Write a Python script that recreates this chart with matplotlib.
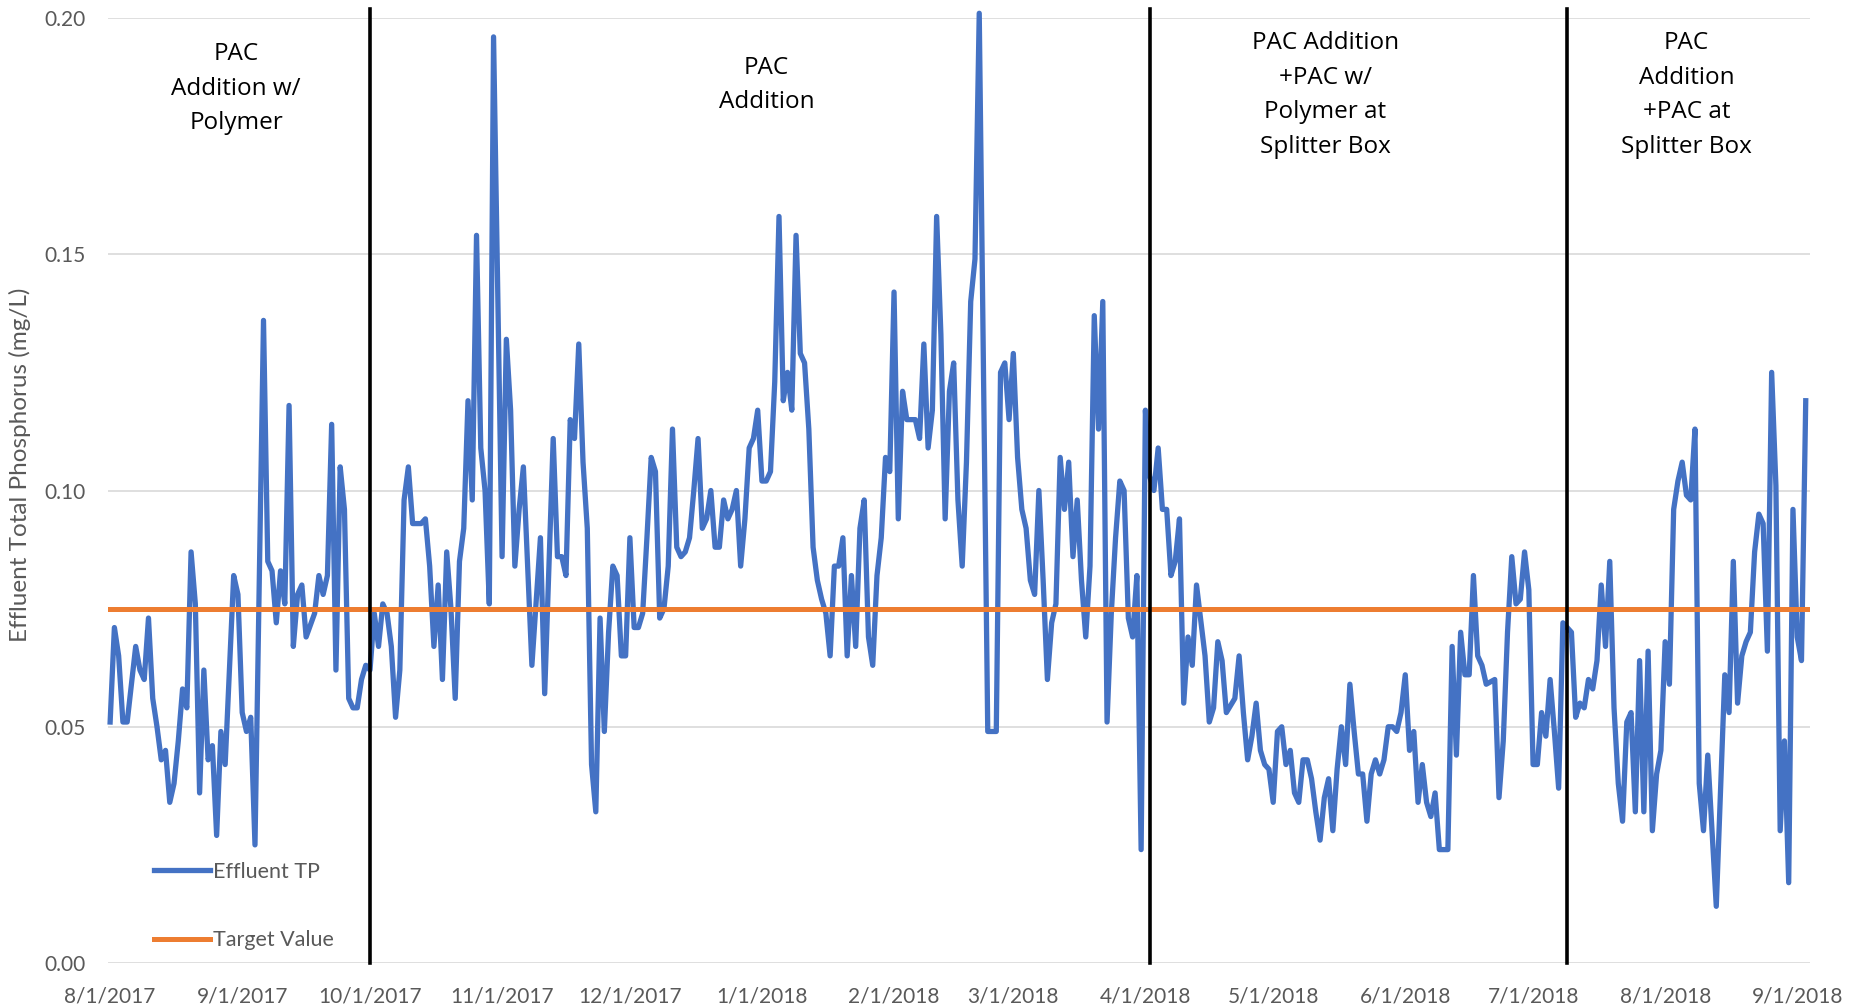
import numpy as np
import pandas as pd
import matplotlib
matplotlib.use('Agg')
import matplotlib.pyplot as plt
import matplotlib.dates as mdates
from matplotlib.ticker import FuncFormatter

plt.rcParams['font.family'] = ['Lato', 'DejaVu Sans']

# Data: day offsets from 8/1/2017 and effluent TP (mg/L)
start = pd.Timestamp('2017-08-01')

# PAC Addition w/ Polymer
p1_day = [0, 1, 2, 3, 4, 6, 7, 8, 9, 10, 11, 12, 13, 14, 15, 16, 17, 18, 19, 20,
          21, 22, 23, 24, 25, 26, 27, 29, 30, 31, 32, 33, 34, 36, 37, 38, 39, 40, 41, 42,
          43, 44, 45, 46, 48, 49, 50, 51, 52, 53, 54, 55, 56, 57, 58, 59, 60]
p1_tp = [0.051, 0.071, 0.065, 0.051, 0.051, 0.067, 0.062, 0.060, 0.073, 0.056, 0.050, 0.043,
         0.045, 0.034, 0.038, 0.047, 0.058, 0.054, 0.087, 0.076, 0.036, 0.062, 0.043, 0.046,
         0.027, 0.049, 0.042, 0.082, 0.078, 0.053, 0.049, 0.052, 0.025, 0.136, 0.085, 0.083,
         0.072, 0.083, 0.076, 0.118, 0.067, 0.078, 0.080, 0.069, 0.074, 0.082, 0.078, 0.082,
         0.114, 0.062, 0.105, 0.096, 0.056, 0.054, 0.054, 0.060, 0.063]

# PAC Addition
p2_day = [61, 62, 63, 64, 65, 66, 67, 68, 69, 70, 71, 73, 74, 75, 76, 77, 78, 79, 80, 81,
          82, 83, 84, 85, 86, 87, 88, 89, 90, 92, 93, 94, 95, 96, 97, 99, 101, 102, 104, 105,
          106, 107, 108, 109, 110, 111, 112, 113, 114, 115, 116, 117, 118, 119, 120, 121, 122,
          123, 124, 125, 126, 127, 128, 129, 130, 131, 132, 133, 134, 135, 136, 137, 138, 139,
          140, 141, 142, 143, 144, 145, 146, 147, 148, 149, 150, 151, 152, 153, 154, 155, 156,
          157, 158, 159, 160, 161, 162, 163, 164, 165, 166, 167, 168, 169, 170, 171, 172, 173,
          174, 175, 176, 177, 178, 179, 180, 181, 182, 183, 184, 185, 186, 187, 189, 190, 191,
          192, 193, 194, 195, 196, 197, 198, 199, 200, 201, 202, 203, 204, 206, 208, 209, 210,
          211, 212, 213, 214, 215, 216, 217, 218, 219, 220, 221, 222, 223, 224, 225, 226, 227,
          228, 229, 230, 231, 232, 233, 234, 235, 236, 237, 238, 239, 240, 241, 242, 243]
p2_tp = [0.062, 0.074, 0.067, 0.076, 0.074, 0.067, 0.052, 0.062, 0.098, 0.105, 0.093, 0.093,
         0.094, 0.084, 0.067, 0.080, 0.060, 0.087, 0.075, 0.056, 0.085, 0.092, 0.119, 0.098,
         0.154, 0.109, 0.100, 0.076, 0.196, 0.086, 0.132, 0.117, 0.084, 0.096, 0.105, 0.063,
         0.090, 0.057, 0.111, 0.086, 0.086, 0.082, 0.115, 0.111, 0.131, 0.106, 0.092, 0.042,
         0.032, 0.073, 0.049, 0.070, 0.084, 0.082, 0.065, 0.065, 0.090, 0.071, 0.071, 0.074,
         0.090, 0.107, 0.104, 0.073, 0.075, 0.084, 0.113, 0.088, 0.086, 0.087, 0.090, 0.100,
         0.111, 0.092, 0.094, 0.100, 0.088, 0.088, 0.098, 0.094, 0.096, 0.100, 0.084, 0.094,
         0.109, 0.111, 0.117, 0.102, 0.102, 0.104, 0.123, 0.158, 0.119, 0.125, 0.117, 0.154,
         0.129, 0.127, 0.113, 0.088, 0.081, 0.077, 0.074, 0.065, 0.084, 0.084, 0.090, 0.065,
         0.082, 0.067, 0.092, 0.098, 0.069, 0.063, 0.082, 0.090, 0.107, 0.104, 0.142, 0.094,
         0.121, 0.115, 0.115, 0.111, 0.131, 0.109, 0.117, 0.158, 0.133, 0.094, 0.121, 0.127,
         0.098, 0.084, 0.106, 0.140, 0.149, 0.201, 0.049, 0.049, 0.125, 0.127, 0.115, 0.129,
         0.107, 0.096, 0.092, 0.081, 0.078, 0.100, 0.081, 0.060, 0.072, 0.076, 0.107, 0.096,
         0.106, 0.086, 0.098, 0.081, 0.069, 0.084, 0.137, 0.113, 0.140, 0.051, 0.074, 0.090,
         0.102, 0.100, 0.073, 0.069, 0.082, 0.024, 0.117]

# PAC Addition +PAC w/ Polymer at Splitter Box
p3_day = [244, 245, 246, 247, 248, 249, 250, 251, 252, 253, 254, 255, 257, 258, 259, 260,
          261, 262, 264, 265, 266, 267, 268, 269, 270, 271, 272, 273, 274, 275, 276, 277, 278,
          279, 280, 281, 282, 283, 284, 285, 286, 287, 288, 289, 290, 291, 292, 293, 294, 295,
          296, 297, 298, 299, 300, 301, 302, 303, 304, 305, 306, 307, 308, 309, 310, 311, 312,
          314, 315, 316, 317, 318, 319, 320, 321, 322, 323, 325, 326, 327, 328, 329, 330, 331,
          332, 333, 334, 335, 336, 337, 338, 339, 340, 341]
p3_tp = [0.103, 0.100, 0.109, 0.096, 0.096, 0.082, 0.085, 0.094, 0.055, 0.069, 0.063, 0.080,
         0.065, 0.051, 0.054, 0.068, 0.064, 0.053, 0.056, 0.065, 0.053, 0.043, 0.048, 0.055,
         0.045, 0.042, 0.041, 0.034, 0.049, 0.050, 0.042, 0.045, 0.036, 0.034, 0.043, 0.043,
         0.039, 0.032, 0.026, 0.035, 0.039, 0.028, 0.041, 0.050, 0.042, 0.059, 0.049, 0.040,
         0.040, 0.030, 0.040, 0.043, 0.040, 0.043, 0.050, 0.050, 0.049, 0.053, 0.061, 0.045,
         0.049, 0.034, 0.042, 0.034, 0.031, 0.036, 0.024, 0.024, 0.067, 0.044, 0.070, 0.061,
         0.061, 0.082, 0.065, 0.063, 0.059, 0.060, 0.035, 0.047, 0.070, 0.086, 0.076, 0.077,
         0.087, 0.079, 0.042, 0.042, 0.053, 0.048, 0.060, 0.049, 0.037, 0.072]

# PAC Addition +PAC at Splitter Box
p4_day = [343, 344, 345, 346, 347, 348, 349, 350, 351, 352, 353, 354, 355, 356, 357, 358,
          359, 360, 361, 362, 363, 364, 365, 366, 367, 368, 369, 370, 371, 372, 373, 374, 375,
          377, 379, 380, 381, 382, 383, 384, 385, 386, 387, 388, 389, 390, 391, 392, 393, 394,
          395, 396, 397, 398]
p4_tp = [0.070, 0.052, 0.055, 0.054, 0.060, 0.058, 0.064, 0.080, 0.067, 0.085, 0.054, 0.038,
         0.030, 0.051, 0.053, 0.032, 0.064, 0.032, 0.066, 0.028, 0.040, 0.045, 0.068, 0.059,
         0.096, 0.102, 0.106, 0.099, 0.098, 0.113, 0.038, 0.028, 0.044, 0.012, 0.061, 0.053,
         0.085, 0.055, 0.065, 0.068, 0.070, 0.087, 0.095, 0.093, 0.066, 0.125, 0.101, 0.028,
         0.047, 0.017, 0.096, 0.069, 0.064, 0.119]

target_value = 0.075
phase_changes = ['2017-10-01', '2018-04-02', '2018-07-09']
phase_labels = ['PAC\nAddition w/\nPolymer',
                'PAC\nAddition',
                'PAC Addition\n+PAC w/\nPolymer at\nSplitter Box',
                'PAC\nAddition\n+PAC at\nSplitter Box']

days = p1_day + p2_day + p3_day + p4_day
tp = p1_tp + p2_tp + p3_tp + p4_tp
dates = start + pd.to_timedelta(days, unit='D')

BLUE = '#4472C4'
ORANGE = '#ED7D31'
GRAY = '#595959'

fig = plt.figure(figsize=(18.5, 10.07), dpi=100)
ax = fig.add_axes([108 / 1850, 1 - 963 / 1007, (1810 - 108) / 1850, (963 - 18) / 1007])

ax.plot(dates, tp, color=BLUE, linewidth=3.8, solid_joinstyle='round',
        label='Effluent TP', zorder=3, clip_on=False)
ax.axhline(target_value, color=ORANGE, linewidth=3.6, label='Target Value', zorder=4)

for d in phase_changes:
    ax.axvline(pd.Timestamp(d), ymin=0, ymax=1.009, color='black', linewidth=2.6,
               zorder=5, clip_on=False)

# Phase labels
label_x = [start + pd.Timedelta(days=29.6), start + pd.Timedelta(days=154.1),
           start + pd.Timedelta(days=285.2), start + pd.Timedelta(days=370)]
label_y = [0.1850, 0.1858, 0.1837, 0.1837]
for lx, ly, txt in zip(label_x, label_y, phase_labels):
    ax.text(lx, ly, txt, ha='center', va='center', fontsize=17.5, color='black',
            linespacing=1.58, multialignment='center', family=['Open Sans', 'DejaVu Sans'])

ax.set_ylim(0, 0.20)
ax.set_xlim(start - pd.Timedelta(days=0.5), start + pd.Timedelta(days=399))
ax.set_yticks(np.arange(0, 0.201, 0.05))
ax.yaxis.set_major_formatter(FuncFormatter(lambda v, p: f'{v:.2f}'))
ax.xaxis.set_major_locator(mdates.MonthLocator(bymonthday=1))


def fmt_date(x, pos):
    d = mdates.num2date(x)
    return f'{d.month}/{d.day}/{d.year}'


ax.xaxis.set_major_formatter(FuncFormatter(fmt_date))
ax.tick_params(axis='both', length=0, labelsize=15, labelcolor=GRAY)
ax.tick_params(axis='x', pad=17)
ax.tick_params(axis='y', pad=16)

ax.grid(axis='y', color='#D9D9D9', linewidth=1.2, zorder=0)
ax.set_axisbelow(True)
for s in ax.spines.values():
    s.set_visible(False)

ax.set_ylabel('Effluent Total Phosphorus (mg/L)', fontsize=17.5, color=GRAY)
ax.yaxis.set_label_coords(-0.045, 0.527)

ax.legend(loc='lower left', bbox_to_anchor=(0.027, 0.0135), frameon=False, fontsize=15.5,
          handlelength=2.6, handletextpad=0.15, labelspacing=2.26, borderpad=0,
          borderaxespad=0, labelcolor=GRAY)

fig.savefig('out.png', dpi=100)
